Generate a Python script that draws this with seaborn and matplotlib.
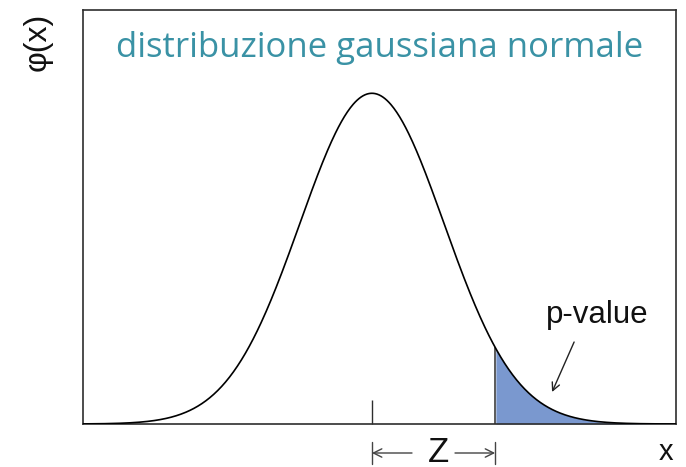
import numpy as np
import pandas as pd
import matplotlib
matplotlib.use("Agg")
import matplotlib.pyplot as plt
import seaborn as sns
from matplotlib.transforms import blended_transform_factory

# ---- chart content ----
title_text = "distribuzione gaussiana normale"
ylabel_text = "\u03c6(x)"
xlabel_text = "x"
pvalue_text = "p-value"
z_text = "Z"

mean = 0.0
sigma = 1.0
z_value = 1.71           # position of the cut, in sigma units
x_range = [-4.01, 4.22]  # visible x range
y_range = [0.0, 0.4994]
n_points = 600

# ---- curve ----
x = np.linspace(x_range[0], x_range[1], n_points)
pdf = np.exp(-0.5 * ((x - mean) / sigma) ** 2) / (sigma * np.sqrt(2 * np.pi))
df = pd.DataFrame({"x": x, "phi": pdf})
tail = df[df["x"] >= z_value]
pdf_z = np.exp(-0.5 * ((z_value - mean) / sigma) ** 2) / (sigma * np.sqrt(2 * np.pi))

sns.set_theme(style="white")
plt.rcParams["font.family"] = ["Liberation Sans", "DejaVu Sans"]

fig = plt.figure(figsize=(6.86, 4.67), dpi=100)
ax = fig.add_axes([83 / 686, 43 / 467, 593 / 686, 414 / 467])

frame_col = "#2e2e2e"
fill_col = "#7a98cf"
ann_col = "#444444"

ax.fill_between(tail["x"], 0, tail["phi"], color=fill_col, linewidth=0, zorder=1)
ax.vlines(z_value, 0, pdf_z, color=frame_col, linewidth=1.1, zorder=2)
sns.lineplot(data=df, x="x", y="phi", ax=ax, color="black", linewidth=1.2,
             zorder=3, legend=False)

ax.set_xlim(*x_range)
ax.set_ylim(*y_range)
ax.set_xlabel("")
ax.set_ylabel("")
ax.set_yticks([])
ax.set_xticks([mean])
ax.set_xticklabels([])
ax.tick_params(axis="x", direction="in", length=17.3, width=1.0,
               color=frame_col, bottom=True)
for s in ax.spines.values():
    s.set_color(frame_col)
    s.set_linewidth(1.2)

# title inside plot
fig.text(380 / 686, 1 - 57 / 467, title_text, color="#3a92a5",
         fontsize=25, family=["Open Sans", "DejaVu Sans"],
         ha="center", va="baseline")

# axis labels
fig.text(38 / 686, 1 - 42 / 467, ylabel_text, rotation=90, fontsize=23,
         ha="center", va="center", color="#111111")
fig.text(666 / 686, 1 - 460 / 467, xlabel_text, fontsize=21,
         ha="center", va="baseline", color="#111111")

# p-value annotation
ax.text(3.125, 0.1218, pvalue_text, fontsize=22.5, ha="center",
        va="baseline", color="#111111")
ax.annotate("", xy=(2.5, 0.0386), xytext=(2.806, 0.0989),
            arrowprops=dict(arrowstyle="->", color="#222222", lw=1.0,
                            mutation_scale=14, shrinkA=0, shrinkB=0))

# Z annotation below axis
trans = blended_transform_factory(ax.transData, ax.transAxes)
y_arrow = (424 - 453) / 414
ax.annotate("", xy=(mean, y_arrow), xytext=(0.556, y_arrow),
            xycoords=trans, textcoords=trans, annotation_clip=False,
            arrowprops=dict(arrowstyle="->", color=ann_col, lw=1.0,
                            mutation_scale=15, shrinkA=0, shrinkB=0))
ax.annotate("", xy=(z_value, y_arrow), xytext=(1.153, y_arrow),
            xycoords=trans, textcoords=trans, annotation_clip=False,
            arrowprops=dict(arrowstyle="->", color=ann_col, lw=1.0,
                            mutation_scale=15, shrinkA=0, shrinkB=0))
for xv in (mean, z_value):
    ax.plot([xv, xv], [(424 - 442) / 414, (424 - 464) / 414], transform=trans,
            color=ann_col, lw=1.0, clip_on=False)
ax.text(0.917, (424 - 452) / 414, z_text, transform=trans, fontsize=25,
        ha="center", va="center", color="#111111")

fig.savefig("out.png", dpi=100)
